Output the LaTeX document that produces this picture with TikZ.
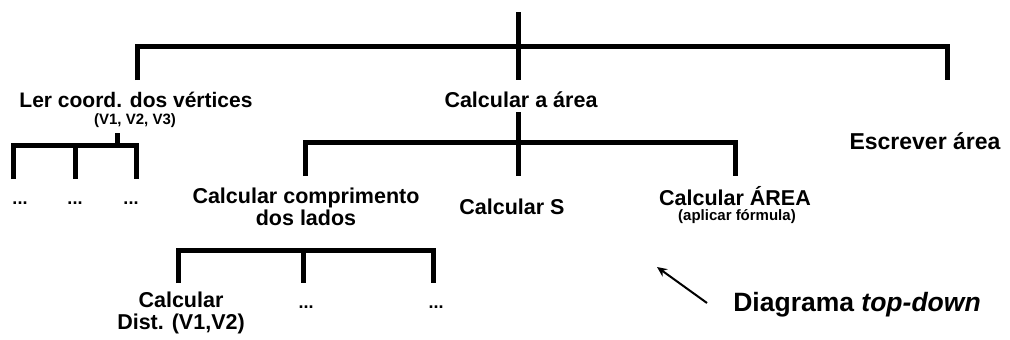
\documentclass[tikz,border=0pt]{standalone}
\usepackage{fontspec}
\setmainfont{Liberation Sans}
\usetikzlibrary{arrows.meta}
\begin{document}
\begin{tikzpicture}[x=1pt,y=-1pt,
  br/.style={line width=5pt, line join=miter},
  lbl/.style={font=\fontsize{21.5}{22}\selectfont\bfseries, inner sep=0pt, align=center},
  sublbl/.style={font=\fontsize{15}{16}\selectfont\bfseries, inner sep=0pt, align=center},
  biglbl/.style={font=\fontsize{26.5}{28}\selectfont\bfseries, inner sep=0pt},
  dots/.style={font=\fontsize{18}{18}\selectfont\bfseries, inner sep=0pt},
  arr/.style={line width=2pt, -{Stealth[length=10pt,width=9pt]}}
]
\useasboundingbox (0,0) rectangle (1010,340);
% top level bracket
\coordinate (root) at (518,12);
\coordinate (t1) at (518,46);
\coordinate (l1) at (137,80);
\coordinate (m1) at (518,80);
\coordinate (r1) at (947,80);
\draw[br] (root) -- (m1);
\draw[br] (l1) -- (l1 |- t1) -- (r1 |- t1) -- (r1);
\node[lbl, font=\fontsize{21}{22}\selectfont\bfseries] (ler) at (136,100) {Ler coord. dos vértices};
\node[sublbl] (vv) at (135,121) {(V1, V2, V3)};
\node[lbl] (calc) at (521,100) {Calcular a área};
\node[lbl, font=\fontsize{23}{24}\selectfont\bfseries] (escr) at (925,141) {Escrever área};
% left sub bracket
\coordinate (s2) at (117,133);
\coordinate (t2) at (117,145);
\coordinate (a2) at (13,179);
\coordinate (b2) at (75,179);
\coordinate (c2) at (136,179);
\draw[br] (s2) -- (t2);
\draw[br] (a2) -- (a2 |- t2) -- (c2 |- t2) -- (c2);
\draw[br] (b2 |- t2) -- (b2);
\node[dots] (d1) at (20,203) {...};
\node[dots] (d2) at (75,203) {...};
\node[dots] (d3) at (131,203) {...};
% middle bracket
\coordinate (s3) at (518,112);
\coordinate (t3) at (518,142);
\coordinate (a3) at (305,176);
\coordinate (b3) at (518,176);
\coordinate (c3) at (735,176);
\draw[br] (s3) -- (b3);
\draw[br] (a3) -- (a3 |- t3) -- (c3 |- t3) -- (c3);
\node[lbl] (comp) at (306,207) {Calcular comprimento\\dos lados};
\node[lbl] (cs) at (512,207) {Calcular S};
\node[lbl] (carea) at (735,196) {Calcular ÁREA};
\node[sublbl] (apl) at (737,217) {(aplicar fórmula)};
% bottom bracket
\coordinate (t4) at (303,250);
\coordinate (a4) at (178,283);
\coordinate (b4) at (303,283);
\coordinate (c4) at (433,283);
\draw[br] (a4) -- (a4 |- t4) -- (c4 |- t4) -- (c4);
\draw[br] (t4) -- (b4);
\node[lbl] (dist) at (181,313) {Calcular\\Dist. (V1,V2)};
\node[dots] (d4) at (306,307) {...};
\node[dots] (d5) at (436,307) {...};
% note
\coordinate (arS) at (707,303);
\coordinate (arE) at (657,267);
\draw[arr] (arS) -- (arE);
\node[biglbl] (diag) at (857,305) {Diagrama \textit{top-down}};
\end{tikzpicture}
\end{document}
